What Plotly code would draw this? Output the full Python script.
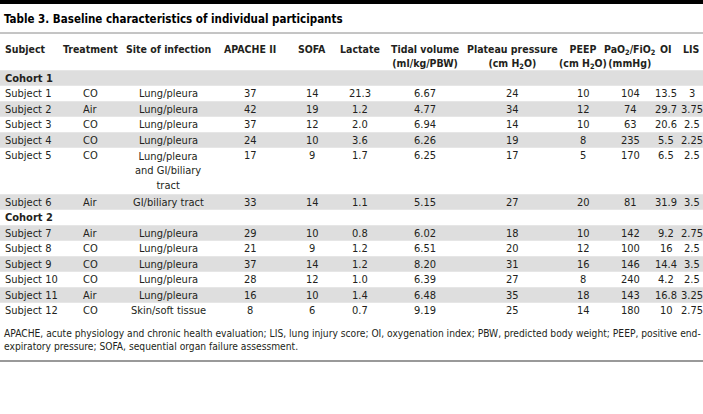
import plotly.graph_objects as go

# ---------------- data ----------------
title = "Table 3. Baseline characteristics of individual participants"
headers = ["Subject", "Treatment", "Site of infection", "APACHE II", "SOFA", "Lactate",
           "Tidal volume<br>(ml/kg/PBW)", "Plateau pressure<br>(cm H<sub>2</sub>O)",
           "PEEP<br>(cm H<sub>2</sub>O)", "PaO<sub>2</sub>/FiO<sub>2</sub><br>(mmHg)", "OI", "LIS"]
cohorts = ["Cohort 1", "Cohort 2"]
cohort_index = [0, 0, 0, 0, 0, 0, 1, 1, 1, 1, 1, 1]
subjects = ["Subject 1", "Subject 2", "Subject 3", "Subject 4", "Subject 5", "Subject 6",
            "Subject 7", "Subject 8", "Subject 9", "Subject 10", "Subject 11", "Subject 12"]
treatment = ["CO", "Air", "CO", "CO", "CO", "Air", "Air", "CO", "CO", "CO", "Air", "CO"]
site = ["Lung/pleura", "Lung/pleura", "Lung/pleura", "Lung/pleura",
        "Lung/pleura<br>and GI/biliary<br>tract", "GI/biliary tract",
        "Lung/pleura", "Lung/pleura", "Lung/pleura", "Lung/pleura", "Lung/pleura",
        "Skin/soft tissue"]
apache = [37, 42, 37, 24, 17, 33, 29, 21, 37, 28, 16, 8]
sofa = [14, 19, 12, 10, 9, 14, 10, 9, 14, 12, 10, 6]
lactate = ["21.3", "1.2", "2.0", "3.6", "1.7", "1.1", "0.8", "1.2", "1.2", "1.0", "1.4", "0.7"]
tidal = ["6.67", "4.77", "6.94", "6.26", "6.25", "5.15", "6.02", "6.51", "8.20", "6.39", "6.48", "9.19"]
plateau = [24, 34, 14, 19, 17, 27, 18, 20, 31, 27, 35, 25]
peep = [10, 12, 10, 8, 5, 20, 10, 12, 16, 8, 18, 14]
pf_ratio = [104, 74, 63, 235, 170, 81, 142, 100, 146, 240, 143, 180]
oi = ["13.5", "29.7", "20.6", "5.5", "6.5", "31.9", "9.2", "16", "14.4", "4.2", "16.8", "10"]
lis = ["3", "3.75", "2.5", "2.25", "2.5", "3.5", "2.75", "2.5", "3.5", "2.5", "3.25", "2.75"]
footnote = ("APACHE, acute physiology and chronic health evaluation; LIS, lung injury score; "
            "OI, oxygenation index; PBW, predicted body weight; PEEP, positive end-<br>"
            "expiratory pressure; SOFA, sequential organ failure assessment.")

# ---------------- layout constants ----------------
W, H = 703, 414
FONT = "Liberation Sans Narrow, DejaVu Sans Condensed, Roboto, Arial, sans-serif"
TXT = "#231f20"
BAND = "#dedede"
col_x = [3, 90, 168, 250, 312, 360, 425, 512, 583, 630, 666, 691.5]
LINE = 15.5
header_y = 48
table_top = 70.25
BODY = 11
HEAD = 10.5

columns = [subjects, treatment, site, apache, sofa, lactate, tidal, plateau, peep, pf_ratio, oi, lis]

fig = go.Figure()
annotations = []
shapes = []


def ann(x, y, text, size=BODY, bold=False, xanchor="center", yanchor="middle", align="center", color=TXT):
    if bold:
        text = "<b>" + text.replace("<br>", "</b><br><b>") + "</b>"
    annotations.append(dict(x=x, y=y, xref="x", yref="y", text=text, showarrow=False,
                            xanchor=xanchor, yanchor=yanchor, align=align,
                            font=dict(family=FONT, size=size, color=color)))


# top bar and title
shapes.append(dict(type="rect", xref="x", yref="y", x0=0, x1=W, y0=0, y1=4,
                   fillcolor="black", line=dict(width=0), layer="below"))
ann(2, 19, title, size=11.5, bold=True, xanchor="left", align="left", color="black")
shapes.append(dict(type="line", xref="x", yref="y", x0=0, x1=W, y0=33, y1=33,
                   line=dict(color="#8a8a8a", width=1)))

# header
for i, h in enumerate(headers):
    if i == 0:
        ann(col_x[i], header_y - 7, h, size=HEAD, bold=True, xanchor="left", yanchor="top", align="left")
    else:
        ann(col_x[i], header_y - 7, h, size=HEAD, bold=True, yanchor="top")

# body rows
y = table_top
band_on = True
current = -1
for r in range(len(subjects)):
    if cohort_index[r] != current:
        current = cohort_index[r]
        if band_on:
            shapes.append(dict(type="rect", xref="x", yref="y", x0=0, x1=W, y0=y, y1=y + LINE,
                               fillcolor=BAND, line=dict(width=0), layer="below"))
        ann(col_x[0], y + LINE / 2, cohorts[current], bold=True, xanchor="left", align="left")
        y += LINE
        band_on = not band_on
    nlines = str(site[r]).count("<br>") + 1
    h = nlines * LINE
    if band_on:
        shapes.append(dict(type="rect", xref="x", yref="y", x0=0, x1=W, y0=y, y1=y + h,
                           fillcolor=BAND, line=dict(width=0), layer="below"))
    for c, col in enumerate(columns):
        val = str(col[r])
        if c == 0:
            ann(col_x[c], y + LINE / 2, val, xanchor="left", align="left")
        elif c == 2:
            ann(col_x[c], y + h / 2, val)
        else:
            ann(col_x[c], y + LINE / 2, val)
    y += h
    band_on = not band_on

# footnote and bottom rule
ann(2, y + 8, footnote, size=10.2, xanchor="left", yanchor="top", align="left")
shapes.append(dict(type="line", xref="x", yref="y", x0=0, x1=W, y0=361, y1=361,
                   line=dict(color="#999999", width=2)))

fig.update_layout(
    width=W, height=H, margin=dict(l=0, r=0, t=0, b=0),
    paper_bgcolor="white", plot_bgcolor="white",
    xaxis=dict(range=[0, W], visible=False, fixedrange=True),
    yaxis=dict(range=[H, 0], visible=False, fixedrange=True),
    annotations=annotations, shapes=shapes, showlegend=False,
)
fig.write_html("out.html", config={"displayModeBar": False},
               post_script="document.body.style.margin='0';")
